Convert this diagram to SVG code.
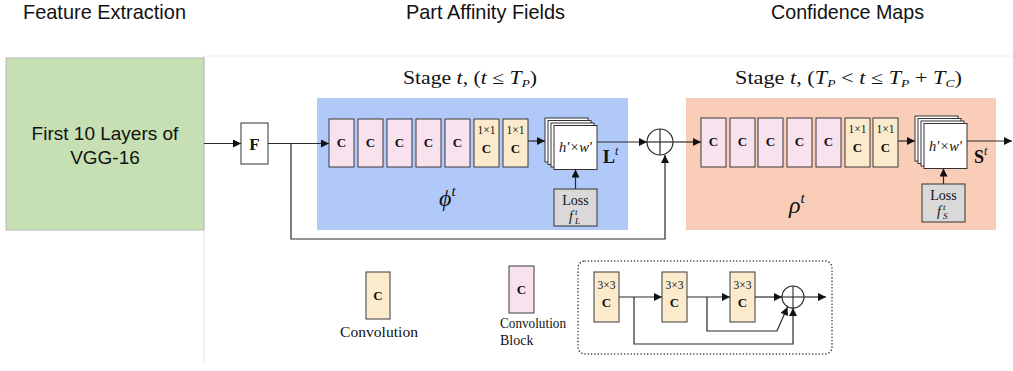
<svg xmlns="http://www.w3.org/2000/svg" width="1013" height="371" viewBox="0 0 1013 371">
<style>
.hdr{font-family:"Liberation Sans",Arial,sans-serif;font-size:21px;fill:#111}
.ser{font-family:"Liberation Serif","Times New Roman",serif;fill:#111}
.ln{fill:none;stroke:#2a2a2a;stroke-width:1.2}
.pink{fill:#f8e2ee;stroke:#3a3a3a;stroke-width:1}
.yel{fill:#fbebcc;stroke:#3a3a3a;stroke-width:1}
.map{fill:#ffffff;stroke:#333;stroke-width:1}
.loss{fill:#d9d9d9;stroke:#333;stroke-width:1}
.cb{font-family:"Liberation Serif","Times New Roman",serif;font-weight:bold;font-size:13px;text-anchor:middle;fill:#111}
.k{font-family:"Liberation Serif","Times New Roman",serif;font-size:11.5px;text-anchor:middle;fill:#111}
.it{font-style:italic}
.sm{font-family:"Liberation Serif","Times New Roman",serif;font-size:9px;font-style:italic;fill:#111}
</style>
<defs>
<marker id="ah" viewBox="0 0 10 10" refX="10" refY="5" markerWidth="9" markerHeight="8" markerUnits="userSpaceOnUse" orient="auto">
<path d="M0,0 L10,5 L0,10 z" fill="#111"/>
</marker>
</defs>
<rect width="1013" height="371" fill="#fff"/>
<line x1="204" y1="56" x2="1013" y2="56" stroke="#ececec" stroke-width="1"/>
<line x1="204" y1="56" x2="204" y2="363" stroke="#e2e2e2" stroke-width="1"/>

<g id="headers">
<text class="hdr" x="23" y="19" textLength="163" lengthAdjust="spacingAndGlyphs">Feature Extraction</text>
<text class="hdr" x="406" y="19" textLength="159" lengthAdjust="spacingAndGlyphs">Part Affinity Fields</text>
<text class="hdr" x="771" y="19" textLength="153" lengthAdjust="spacingAndGlyphs">Confidence Maps</text>
</g>

<g id="vgg">
<rect x="6" y="58" width="198" height="172" fill="#c6e0b4" stroke="#b5b5b5" stroke-width="1"/>
<text x="105" y="140" font-family="Liberation Sans,Arial,sans-serif" font-size="19" text-anchor="middle" fill="#111">First 10 Layers of</text>
<text x="105" y="164" font-family="Liberation Sans,Arial,sans-serif" font-size="19" text-anchor="middle" fill="#111">VGG-16</text>
</g>

<g id="F">
<rect x="241" y="123" width="27" height="41" fill="#fff" stroke="#333" stroke-width="1"/>
<text class="ser" x="254.5" y="150" font-size="17" font-weight="bold" text-anchor="middle">F</text>
</g>

<g id="paf-stage">
<rect x="317" y="98" width="311" height="132" fill="#b0c9f8"/>
<text class="ser" x="403" y="84" font-size="18" textLength="134" lengthAdjust="spacingAndGlyphs">Stage <tspan class="it">t</tspan>, (<tspan class="it">t</tspan> ≤ <tspan class="it">T</tspan><tspan class="it" font-size="11" dy="3">P</tspan><tspan dy="-3">)</tspan></text>
<text class="ser it" x="439" y="206" font-size="24">ϕ<tspan font-size="15" dy="-10">t</tspan></text>
</g>
<g id="paf-blocks">
<rect class="pink" x="329" y="119" width="25" height="48"/><text class="cb" x="341.5" y="147">C</text>
<rect class="pink" x="358" y="119" width="25" height="48"/><text class="cb" x="370.5" y="147">C</text>
<rect class="pink" x="387" y="119" width="25" height="48"/><text class="cb" x="399.5" y="147">C</text>
<rect class="pink" x="416" y="119" width="25" height="48"/><text class="cb" x="428.5" y="147">C</text>
<rect class="pink" x="445" y="119" width="25" height="48"/><text class="cb" x="457.5" y="147">C</text>
<rect class="yel" x="474" y="119" width="25" height="48"/><text class="k" x="486.5" y="134">1×1</text><text class="cb" x="486.5" y="153">C</text>
<rect class="yel" x="503" y="119" width="25" height="48"/><text class="k" x="515.5" y="134">1×1</text><text class="cb" x="515.5" y="153">C</text>
</g>
<g id="paf-map">
<rect class="map" x="545" y="118" width="43" height="44"/>
<rect class="map" x="548" y="120.5" width="43" height="44"/>
<rect class="map" x="551" y="123" width="43" height="44"/>
<rect class="map" x="554" y="125.5" width="43" height="44"/>
<text class="ser it" x="575.5" y="152" font-size="14.5" text-anchor="middle">h′×w′</text>
<text class="ser" x="603" y="163" font-size="18" font-weight="bold">L<tspan font-size="12" font-weight="normal" font-style="italic" dy="-8">t</tspan></text>
</g>
<g id="paf-loss">
<rect class="loss" x="554" y="189" width="43" height="37"/>
<text class="ser" x="575.5" y="205" font-size="14" text-anchor="middle">Loss</text>
<text class="ser it" x="569" y="221" font-size="14">f</text>
<text class="sm" x="575" y="215">t</text>
<text class="sm" x="575" y="224">L</text>
</g>

<g id="sum">
<circle cx="660" cy="142" r="13" fill="#fff" stroke="#2a2a2a" stroke-width="1.2"/>
<line x1="647" y1="142" x2="673" y2="142" stroke="#2a2a2a" stroke-width="1.2"/>
<line x1="660" y1="129" x2="660" y2="155" stroke="#2a2a2a" stroke-width="1.2"/>
</g>

<g id="cm-stage">
<rect x="686" y="98" width="310" height="132" fill="#f9cdb7"/>
<text class="ser" x="735" y="84" font-size="18" textLength="227" lengthAdjust="spacingAndGlyphs">Stage <tspan class="it">t</tspan>, (<tspan class="it">T</tspan><tspan class="it" font-size="11" dy="3">P</tspan><tspan dy="-3"> &lt; </tspan><tspan class="it">t</tspan> ≤ <tspan class="it">T</tspan><tspan class="it" font-size="11" dy="3">P</tspan><tspan dy="-3"> + </tspan><tspan class="it">T</tspan><tspan class="it" font-size="11" dy="3">C</tspan><tspan dy="-3">)</tspan></text>
<text class="ser it" x="789" y="213" font-size="24">ρ<tspan font-size="15" dy="-10">t</tspan></text>
</g>
<g id="cm-blocks">
<rect class="pink" x="701" y="118" width="25" height="49"/><text class="cb" x="713.5" y="146">C</text>
<rect class="pink" x="730" y="118" width="25" height="49"/><text class="cb" x="742.5" y="146">C</text>
<rect class="pink" x="758" y="118" width="25" height="49"/><text class="cb" x="770.5" y="146">C</text>
<rect class="pink" x="787" y="118" width="25" height="49"/><text class="cb" x="799.5" y="146">C</text>
<rect class="pink" x="816" y="118" width="25" height="49"/><text class="cb" x="828.5" y="146">C</text>
<rect class="yel" x="845" y="118" width="25" height="49"/><text class="k" x="857.5" y="133">1×1</text><text class="cb" x="857.5" y="152">C</text>
<rect class="yel" x="873" y="118" width="25" height="49"/><text class="k" x="885.5" y="133">1×1</text><text class="cb" x="885.5" y="152">C</text>
</g>
<g id="cm-map">
<rect class="map" x="915" y="116" width="43" height="45"/>
<rect class="map" x="918" y="118.5" width="43" height="45"/>
<rect class="map" x="921" y="121" width="43" height="45"/>
<rect class="map" x="924" y="123.5" width="43" height="45"/>
<text class="ser it" x="945.5" y="151" font-size="14.5" text-anchor="middle">h′×w′</text>
<text class="ser" x="974" y="163" font-size="18" font-weight="bold">S<tspan font-size="12" font-weight="normal" font-style="italic" dy="-8">t</tspan></text>
</g>
<g id="cm-loss">
<rect class="loss" x="922" y="184" width="43" height="38"/>
<text class="ser" x="943.5" y="200" font-size="14" text-anchor="middle">Loss</text>
<text class="ser it" x="937" y="216" font-size="14">f</text>
<text class="sm" x="943" y="210">t</text>
<text class="sm" x="943" y="219">S</text>
</g>

<g id="legend-conv">
<rect class="yel" x="366" y="272" width="24" height="47"/>
<text class="cb" x="378" y="300">C</text>
<text class="ser" x="340" y="337" font-size="15.5" textLength="78" lengthAdjust="spacingAndGlyphs">Convolution</text>
</g>
<g id="legend-block">
<rect class="pink" x="509" y="266" width="25" height="47"/>
<text class="cb" x="521.5" y="294">C</text>
<text class="ser" x="500" y="328" font-size="14" textLength="66" lengthAdjust="spacingAndGlyphs">Convolution</text>
<text class="ser" x="500" y="345" font-size="14">Block</text>
</g>
<g id="legend-detail">
<rect x="578" y="261" width="254" height="93" rx="7" fill="none" stroke="#333" stroke-width="1.5" stroke-dasharray="0.1 3.2" stroke-linecap="round"/>
<rect class="yel" x="594" y="272" width="25" height="50"/><text class="k" x="606.5" y="289">3×3</text><text class="cb" x="606.5" y="307">C</text>
<rect class="yel" x="662" y="272" width="25" height="50"/><text class="k" x="674.5" y="289">3×3</text><text class="cb" x="674.5" y="307">C</text>
<rect class="yel" x="730" y="272" width="25" height="50"/><text class="k" x="742.5" y="289">3×3</text><text class="cb" x="742.5" y="307">C</text>
<circle cx="793" cy="297" r="11" fill="#fff" stroke="#2a2a2a" stroke-width="1.1"/>
<line x1="782" y1="297" x2="804" y2="297" stroke="#2a2a2a" stroke-width="1.1"/>
<line x1="793" y1="286" x2="793" y2="308" stroke="#2a2a2a" stroke-width="1.1"/>
</g>

<g id="connectors" class="ln">
<line x1="204" y1="143.5" x2="241" y2="143.5" marker-end="url(#ah)"/>
<line x1="268" y1="143.5" x2="329" y2="143.5" marker-end="url(#ah)"/>
<path d="M291,143.5 V239 H665 V155" marker-end="url(#ah)"/>
<line x1="528" y1="141" x2="545" y2="141" marker-end="url(#ah)"/>
<line x1="597" y1="142" x2="647" y2="142" marker-end="url(#ah)"/>
<line x1="575.5" y1="189" x2="575.5" y2="169.5" marker-end="url(#ah)"/>
<line x1="673" y1="142" x2="701" y2="142" marker-end="url(#ah)"/>
<line x1="898" y1="141" x2="915" y2="141" marker-end="url(#ah)"/>
<line x1="967" y1="141" x2="1012" y2="141" marker-end="url(#ah)"/>
<line x1="943.5" y1="184" x2="943.5" y2="168.5" marker-end="url(#ah)"/>
<line x1="619" y1="297" x2="662" y2="297" marker-end="url(#ah)"/>
<line x1="687" y1="297" x2="730" y2="297" marker-end="url(#ah)"/>
<line x1="755" y1="297" x2="782" y2="297" marker-end="url(#ah)"/>
<line x1="804" y1="297" x2="826" y2="297" marker-end="url(#ah)"/>
<path d="M634,297 V344 H793 V308" marker-end="url(#ah)"/>
<path d="M707,297 V331 H777 L787.5,307" marker-end="url(#ah)"/>
</g>
</svg>
